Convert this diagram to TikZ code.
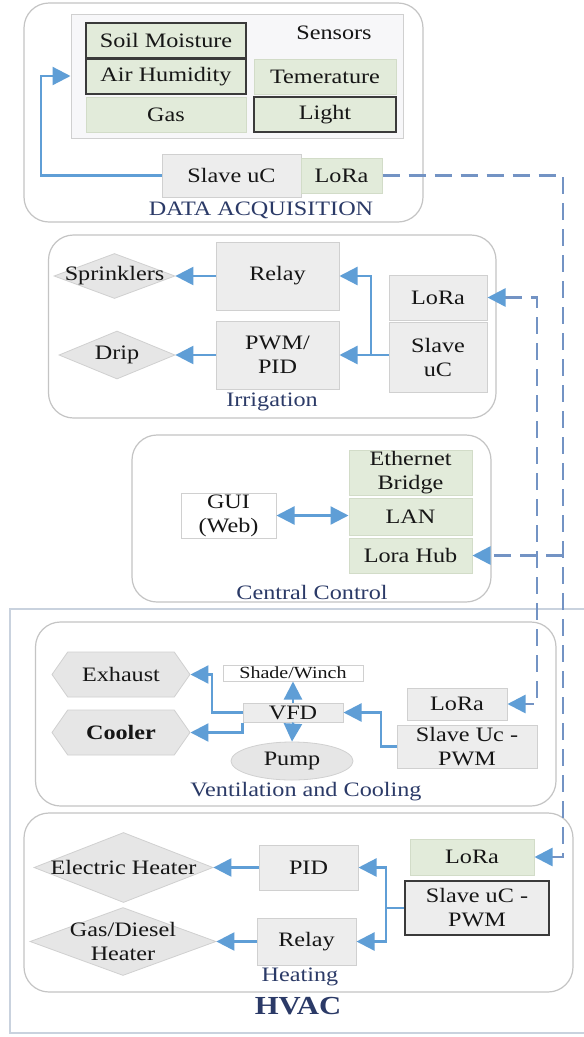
\documentclass[tikz,border=0pt]{standalone}
\usepackage{fontspec}
\setmainfont{Liberation Serif}[FakeStretch=1.18]
\usetikzlibrary{shapes.geometric,shapes.symbols,arrows.meta}
\definecolor{gfill}{HTML}{E2EBDA}
\definecolor{gline}{HTML}{D2DCC8}
\definecolor{grayfill}{HTML}{EDEDED}
\definecolor{grayline}{HTML}{D0D0D0}
\definecolor{dark}{HTML}{3A3A3A}
\definecolor{arrblue}{HTML}{5F9ED6}
\definecolor{dashblue}{HTML}{7393C4}
\definecolor{navy}{HTML}{2B3A67}
\definecolor{secline}{HTML}{C4C4C4}
\definecolor{hvacline}{HTML}{C9D2DE}
\definecolor{shapefill}{HTML}{E6E6E6}
\definecolor{panelfill}{HTML}{F7F7F9}
\definecolor{txt}{HTML}{161616}
\begin{document}
\begin{tikzpicture}[x=1pt,y=-1pt,
 every node/.style={font=\fontsize{20.5}{24}\selectfont, text=txt},
 bx/.style={rectangle, inner sep=0pt, align=center, draw=grayline, line width=1pt, fill=grayfill},
 gbx/.style={bx, fill=gfill, draw=gline},
 dk/.style={draw=dark, line width=1.6pt},
 sec/.style={rectangle, rounded corners=25pt, draw=secline, line width=1.2pt, fill=white, inner sep=0pt},
 seclabel/.style={text=navy},
 dia/.style={diamond, draw=grayline, fill=shapefill, inner sep=0pt, line width=0.8pt},
 hex/.style={signal, signal to=east and west, signal pointer angle=110, draw=grayline, fill=shapefill, inner sep=0pt, line width=0.8pt},
 arr/.style={draw=arrblue, line width=2.3pt, -{Triangle[length=18pt,width=18pt]}},
 darr2/.style={draw=arrblue, line width=2.3pt, {Triangle[length=18pt,width=18pt]}-{Triangle[length=18pt,width=18pt]}},
 ln/.style={draw=arrblue, line width=2.3pt},
 darr/.style={draw=dashblue, line width=2.5pt, dash pattern=on 17pt off 9pt, -{Triangle[length=18pt,width=18pt,color=arrblue]}},
 ddarr/.style={draw=dashblue, line width=2.5pt, dash pattern=on 17pt off 9pt, {Triangle[length=18pt,width=18pt,color=arrblue]}-{Triangle[length=18pt,width=18pt,color=arrblue]}}
]
\useasboundingbox (0,0) rectangle (584,1037);
\fill[white] (0,0) rectangle (584,1037);
% HVAC frame
\draw[hvacline, line width=2pt] (590,609) -- (10,609) -- (10,1033) -- (590,1033);

% ---------- DATA ACQUISITION ----------
\node[sec, minimum width=399pt, minimum height=219pt] (acq) at (223.5,112.5) {};
\node[rectangle, draw=grayline, fill=panelfill, line width=1pt, minimum width=332pt, minimum height=124pt, inner sep=0pt] (panel) at (237,76) {};
\node[gbx, dk, minimum width=160pt, minimum height=35pt] (soil) at (166,40.5) {Soil Moisture};
\node[gbx, dk, minimum width=160pt, minimum height=35pt] (air) at (166,76.5) {Air Humidity};
\node[gbx, minimum width=142pt, minimum height=35pt] (temp) at (325,76.5) {Temerature};
\node[gbx, minimum width=160pt, minimum height=35pt] (gas) at (166,114.5) {Gas};
\node[gbx, dk, minimum width=142pt, minimum height=35pt] (light) at (325,114.5) {Light};
\node (sens) at (334,33) {Sensors};
\node[bx, minimum width=139pt, minimum height=43pt] (slave1) at (231.5,175.5) {Slave uC};
\node[gbx, minimum width=81pt, minimum height=35pt] (lora1) at (341.5,175.5) {LoRa};
\node[seclabel] (acqlbl) at (261,210) {DATA ACQUISITION};
\coordinate (c1) at (41,175.5);
\draw[arr] (slave1.west) -- (c1) |- (panel.west);

% ---------- Irrigation ----------
\node[sec, minimum width=447.5pt, minimum height=183pt] (irr) at (272.25,326.5) {};
\node[bx, minimum width=123pt, minimum height=68pt] (relay2) at (277.5,276) {Relay};
\node[bx, minimum width=123pt, minimum height=68pt] (pwm2) at (277.5,355) {PWM/\\PID};
\node[dia, minimum width=121pt, minimum height=45pt, label=center:{Sprinklers}] (spr) at (114.5,276) {};
\node[dia, minimum width=116pt, minimum height=48pt, label=center:{Drip}] (drip) at (117,355) {};
\node[bx, minimum width=98pt, minimum height=45pt] (lora2) at (438,297.5) {LoRa};
\node[bx, minimum width=98pt, minimum height=70pt] (slave2) at (438,357) {Slave\\uC};
\node[seclabel] (irrlbl) at (272,402) {Irrigation};
\coordinate (j2) at (371,355);
\draw[arr] (slave2.west |- pwm2.east) -- (pwm2.east);
\draw[arr] (j2) |- (relay2.east);
\draw[arr] (relay2.west) -- (spr.east);
\draw[arr] (pwm2.west) -- (drip.east);

% ---------- Central Control ----------
\node[sec, minimum width=359pt, minimum height=167pt] (cc) at (311.5,518.5) {};
\node[gbx, minimum width=123pt, minimum height=45pt] (eth) at (410.5,472.5) {Ethernet\\Bridge};
\node[gbx, minimum width=123pt, minimum height=37pt] (lan) at (410.5,516.5) {LAN};
\node[gbx, minimum width=123pt, minimum height=35pt] (hub) at (410.5,555.5) {Lora Hub};
\node[bx, fill=white, minimum width=95pt, minimum height=45pt] (gui) at (228.5,515.5) {GUI\\(Web)};
\node[seclabel] (cclbl) at (312,592) {Central Control};
\draw[darr2] (gui.east) -- (gui.east -| lan.west);

% ---------- Ventilation and Cooling ----------
\node[sec, minimum width=520.5pt, minimum height=184pt] (vent) at (295.75,714) {};
\node[hex, minimum width=138pt, minimum height=45pt, label=center:{Exhaust}] (exh) at (121,674.5) {};
\node[hex, minimum width=138pt, minimum height=45pt, label=center:{\bfseries Cooler}] (cool) at (121,732.5) {};
\node[bx, fill=white, minimum width=140pt, minimum height=16pt, font=\fontsize{17}{18}\selectfont] (shade) at (293,673) {Shade/Winch};
\node[bx, minimum width=100pt, minimum height=19pt] (vfd) at (293,712.5) {VFD};
\node[ellipse, draw=grayline, fill=shapefill, line width=0.8pt, inner sep=0pt, minimum width=122pt, minimum height=38pt, label=center:{Pump}] (pump) at (292,761) {};
\node[bx, minimum width=100pt, minimum height=32pt] (lora4) at (457,704) {LoRa};
\node[bx, minimum width=140pt, minimum height=43pt] (slave4) at (467,746.5) {Slave Uc -\\PWM};
\node[seclabel] (ventlbl) at (306,792) {Ventilation and Cooling};
\coordinate (k1) at (212,674.5);
\coordinate (k2) at (381,712.5);
\draw[arr] (vfd.north) -- (shade.south);
\draw[arr] (vfd.south) -- (pump.north);
\draw[arr] (vfd.west) -| (k1) -- (exh.east);
\draw[arr] (vfd.south west) |- (cool.east);
\draw[arr] (slave4.west) -| (k2) -- (vfd.east);

% ---------- Heating ----------
\node[sec, minimum width=549pt, minimum height=179pt] (heat) at (298.5,902.5) {};
\node[dia, minimum width=179pt, minimum height=70pt, label=center:{Electric Heater}] (eh) at (123.5,867.5) {};
\node[dia, minimum width=186pt, minimum height=68pt, label={[align=center]center:{Gas/Diesel\\Heater}}] (gd) at (123,941.5) {};
\node[bx, minimum width=99pt, minimum height=45pt] (pid) at (308.5,867.5) {PID};
\node[bx, minimum width=99pt, minimum height=47pt] (relay5) at (306.5,941.5) {Relay};
\node[gbx, minimum width=124pt, minimum height=36pt] (lora5) at (472,857) {LoRa};
\node[bx, dk, minimum width=144pt, minimum height=54pt] (slave5) at (477,908) {Slave uC -\\PWM};
\node[seclabel] (heatlbl) at (300,977) {Heating};
\node[text=navy, font=\fontsize{26}{28}\selectfont\bfseries] (hvac) at (298,1006) {HVAC};
\coordinate (j5) at (386,908);
\draw[ln] (slave5.west) -- (j5);
\draw[arr] (j5) |- (pid.east);
\draw[arr] (j5) |- (relay5.east);
\draw[arr] (pid.west) -- (eh.east);
\draw[arr] (relay5.west) -- (gd.east);

% ---------- LoRa links ----------
\coordinate (d1) at (563,175.5);
\coordinate (d2) at (563,857);
\coordinate (d3) at (563,555.5);
\coordinate (e1) at (537,297.5);
\coordinate (e2) at (537,704);
\draw[darr] (lora1.east) -- (d1) -- (d2) -- (lora5.east);
\draw[darr] (d3) -- (hub.east);
\draw[ddarr] (lora2.east) -- (e1) -- (e2) -- (lora4.east);
\end{tikzpicture}
\end{document}
